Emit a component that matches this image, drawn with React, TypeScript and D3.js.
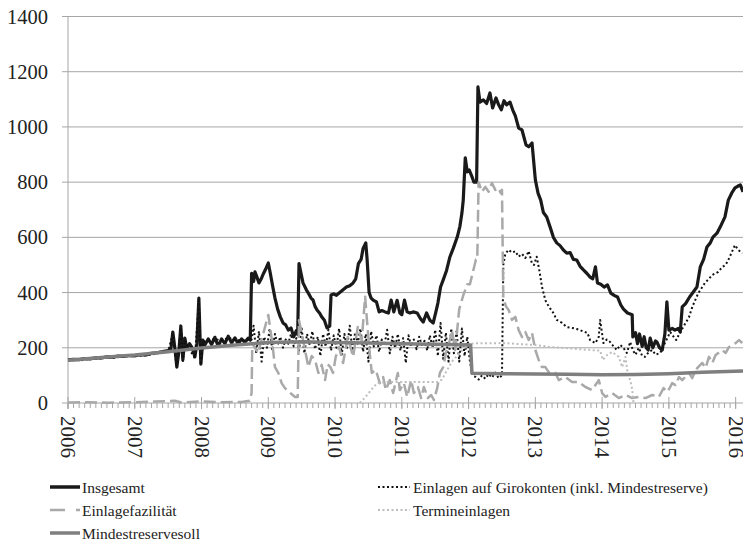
import React from 'react';
import * as d3 from 'd3';

const W = 743;
const H = 542;

const yTickValues = [0, 200, 400, 600, 800, 1000, 1200, 1400];
const yearTicks = [2006, 2007, 2008, 2009, 2010, 2011, 2012, 2013, 2014, 2015, 2016];

type P = [number, number];

const insgesamt: P[] = [
  [2006.0,156],[2006.08,158],[2006.17,157],[2006.25,161],[2006.33,160],[2006.42,164],[2006.5,163],[2006.58,167],[2006.67,166],[2006.75,170],[2006.83,169],[2006.92,172],[2007.0,171],[2007.08,175],[2007.17,174],[2007.25,180],[2007.33,182],[2007.42,186],[2007.5,190],[2007.54,194],[2007.57,257],[2007.6,200],[2007.63,130],[2007.66,185],[2007.69,279],[2007.72,156],[2007.75,235],[2007.78,195],[2007.82,215],[2007.86,200],[2007.9,167],[2007.93,215],[2007.96,380],[2007.99,141],[2008.02,228],[2008.05,210],[2008.1,232],[2008.15,212],[2008.2,238],[2008.25,205],[2008.3,232],[2008.35,215],[2008.4,242],[2008.45,218],[2008.5,236],[2008.55,214],[2008.6,232],[2008.65,220],[2008.7,235],[2008.73,228],
  [2008.75,470],[2008.78,440],[2008.8,475],[2008.83,456],[2008.86,435],[2008.9,453],[2008.93,470],[2008.97,490],[2009.0,507],[2009.03,470],[2009.06,430],[2009.1,380],[2009.14,340],[2009.18,312],[2009.22,290],[2009.26,283],[2009.3,264],[2009.34,272],[2009.38,240],[2009.42,262],[2009.44,248],[2009.46,505],[2009.49,470],[2009.52,435],[2009.57,410],[2009.6,398],[2009.64,380],[2009.67,373],[2009.7,350],[2009.73,337],[2009.77,325],[2009.8,312],[2009.84,300],[2009.88,272],[2009.92,278],[2009.94,391],[2009.98,395],
  [2010.02,390],[2010.07,400],[2010.12,410],[2010.17,420],[2010.22,425],[2010.27,435],[2010.31,450],[2010.35,505],[2010.39,520],[2010.42,560],[2010.46,580],[2010.48,520],[2010.51,400],[2010.54,380],[2010.57,373],[2010.62,366],[2010.66,330],[2010.7,335],[2010.75,330],[2010.8,326],[2010.84,373],[2010.88,330],[2010.93,372],[2010.97,326],[2011.0,320],[2011.04,373],[2011.08,330],[2011.12,326],[2011.17,330],[2011.23,326],[2011.28,305],[2011.32,293],[2011.37,326],[2011.42,300],[2011.47,290],[2011.51,330],[2011.54,362],[2011.58,420],[2011.62,446],[2011.67,480],[2011.72,529],[2011.77,560],[2011.83,601],[2011.87,640],[2011.9,688],[2011.92,735],[2011.95,888],[2011.98,837],
  [2012.01,844],[2012.05,820],[2012.08,800],[2012.12,800],[2012.14,1145],[2012.17,1090],[2012.22,1098],[2012.27,1085],[2012.32,1123],[2012.36,1069],[2012.41,1105],[2012.45,1080],[2012.49,1062],[2012.53,1095],[2012.57,1080],[2012.62,1090],[2012.66,1062],[2012.7,1040],[2012.75,996],[2012.8,989],[2012.86,935],[2012.9,928],[2012.95,942],[2013.0,808],[2013.04,760],[2013.08,735],[2013.12,690],[2013.17,674],[2013.22,638],[2013.27,600],[2013.32,580],[2013.37,570],[2013.42,554],[2013.47,543],[2013.52,545],[2013.57,520],[2013.62,518],[2013.67,495],[2013.72,482],[2013.77,470],[2013.82,456],[2013.86,450],[2013.9,493],[2013.93,435],[2013.98,430],
  [2014.03,420],[2014.08,428],[2014.13,398],[2014.18,390],[2014.23,384],[2014.28,355],[2014.32,340],[2014.38,326],[2014.45,320],[2014.46,239],[2014.5,255],[2014.53,215],[2014.56,250],[2014.6,205],[2014.63,240],[2014.66,200],[2014.69,192],[2014.72,235],[2014.76,200],[2014.8,225],[2014.82,221],[2014.86,200],[2014.9,192],[2014.94,250],[2014.97,366],[2015.0,264],[2015.05,270],[2015.09,264],[2015.14,270],[2015.17,257],[2015.2,348],[2015.25,360],[2015.31,384],[2015.36,400],[2015.42,420],[2015.47,493],[2015.52,520],[2015.57,565],[2015.62,580],[2015.66,601],[2015.72,615],[2015.77,638],[2015.84,674],[2015.89,735],[2015.94,760],[2015.99,779],[2016.03,785],[2016.07,790],[2016.11,765]
];

const girokonten: P[] = [
  [2006.0,153],[2006.1,156],[2006.2,155],[2006.3,159],[2006.4,160],[2006.5,162],[2006.6,165],[2006.7,164],[2006.8,168],[2006.9,170],[2007.0,169],[2007.1,172],[2007.2,173],[2007.3,178],[2007.4,183],[2007.5,187],[2007.57,250],[2007.63,128],[2007.69,272],[2007.72,152],[2007.75,228],[2007.8,200],[2007.9,163],[2007.96,372],[2007.99,138],[2008.02,222],[2008.1,226],[2008.2,232],[2008.3,226],[2008.4,236],[2008.5,230],[2008.6,226],[2008.7,230],[2008.73,225],
  [2008.75,230],[2008.78,280],[2008.82,180],[2008.86,260],[2008.9,150],[2008.94,240],[2008.98,200],[2009.02,270],[2009.06,190],[2009.1,250],[2009.14,210],[2009.18,240],[2009.22,200],[2009.26,230],[2009.3,215],[2009.34,250],[2009.38,205],[2009.42,235],[2009.46,190],[2009.5,270],[2009.54,180],[2009.58,250],[2009.62,210],[2009.66,260],[2009.7,195],[2009.74,240],[2009.78,170],[2009.82,250],[2009.86,205],[2009.9,265],[2009.94,190],[2009.98,245],
  [2010.02,200],[2010.06,270],[2010.1,175],[2010.14,250],[2010.18,200],[2010.22,280],[2010.26,190],[2010.3,255],[2010.34,215],[2010.38,270],[2010.42,185],[2010.46,250],[2010.5,150],[2010.54,260],[2010.58,205],[2010.62,245],[2010.66,185],[2010.7,230],[2010.74,210],[2010.78,265],[2010.82,180],[2010.86,240],[2010.9,200],[2010.94,250],[2010.98,190],[2011.02,235],[2011.06,145],[2011.1,245],[2011.14,205],[2011.18,230],[2011.22,195],[2011.26,240],[2011.3,210],[2011.34,225],[2011.38,190],[2011.42,245],[2011.46,200],[2011.5,265],[2011.54,170],[2011.58,290],[2011.62,160],[2011.66,255],[2011.7,150],[2011.74,270],[2011.78,180],[2011.82,260],[2011.86,150],[2011.9,270],[2011.94,170],[2011.98,240],
  [2012.02,150],[2012.06,100],[2012.1,95],[2012.15,85],[2012.2,100],[2012.25,88],[2012.3,105],[2012.35,92],[2012.4,110],[2012.45,90],[2012.5,100],[2012.52,500],[2012.55,540],[2012.6,555],[2012.65,545],[2012.7,550],[2012.75,530],[2012.8,540],[2012.85,525],[2012.9,550],[2012.95,505],[2012.98,500],[2013.02,530],[2013.06,480],[2013.1,420],[2013.15,372],[2013.2,350],[2013.27,326],[2013.32,301],[2013.4,290],[2013.47,275],[2013.55,272],[2013.62,268],[2013.67,264],[2013.73,258],[2013.78,254],[2013.82,228],[2013.9,217],[2013.95,240],[2013.97,301],[2014.0,250],[2014.02,217],
  [2014.07,230],[2014.12,221],[2014.17,205],[2014.22,192],[2014.27,210],[2014.31,203],[2014.37,181],[2014.42,221],[2014.46,192],[2014.5,175],[2014.55,200],[2014.6,170],[2014.64,167],[2014.7,185],[2014.75,192],[2014.8,175],[2014.87,181],[2014.94,217],[2015.02,257],[2015.07,240],[2015.11,228],[2015.17,257],[2015.25,290],[2015.3,310],[2015.35,348],[2015.44,398],[2015.5,420],[2015.54,435],[2015.6,450],[2015.65,464],[2015.7,470],[2015.74,475],[2015.8,493],[2015.85,500],[2015.89,518],[2015.94,545],[2015.99,572],[2016.04,554],[2016.1,543]
];

const einlagefazilitaet: P[] = [
  [2006.0,2],[2006.3,3],[2006.6,1],[2007.0,3],[2007.3,5],[2007.6,8],[2007.7,2],[2008.0,6],[2008.3,3],[2008.6,4],[2008.72,8],[2008.75,36],[2008.76,217],[2008.8,200],[2008.85,181],[2008.91,239],[2009.0,319],[2009.06,217],[2009.1,130],[2009.15,109],[2009.2,72],[2009.25,54],[2009.33,36],[2009.4,22],[2009.44,22],[2009.46,300],[2009.55,192],[2009.6,130],[2009.65,170],[2009.7,156],[2009.75,109],[2009.8,138],[2009.85,83],[2009.89,140],[2009.93,130],[2009.97,109],
  [2010.01,167],[2010.06,203],[2010.12,145],[2010.19,239],[2010.27,167],[2010.34,275],[2010.4,228],[2010.45,385],[2010.51,203],[2010.55,109],[2010.61,120],[2010.67,72],[2010.72,94],[2010.76,47],[2010.82,83],[2010.87,36],[2010.94,109],[2010.97,47],[2011.03,72],[2011.08,22],[2011.14,83],[2011.18,36],[2011.24,58],[2011.29,18],[2011.33,58],[2011.39,18],[2011.44,29],[2011.48,11],[2011.53,54],[2011.57,109],[2011.62,130],[2011.66,181],[2011.72,228],[2011.75,264],[2011.8,192],[2011.86,340],[2011.92,390],[2011.98,430],[2012.02,430],[2012.07,480],[2012.11,520],[2012.13,520],
  [2012.15,800],[2012.2,765],[2012.25,783],[2012.3,765],[2012.35,797],[2012.4,772],[2012.45,779],[2012.48,761],[2012.5,772],[2012.52,380],[2012.56,350],[2012.6,337],[2012.65,301],[2012.7,312],[2012.75,264],[2012.8,239],[2012.85,257],[2012.9,228],[2012.95,254],[2013.0,192],[2013.05,156],[2013.1,130],[2013.15,130],[2013.2,112],[2013.3,109],[2013.35,83],[2013.45,94],[2013.55,76],[2013.65,76],[2013.75,58],[2013.85,47],[2013.9,65],[2013.95,83],[2014.0,36],
  [2014.05,22],[2014.15,36],[2014.25,18],[2014.35,29],[2014.45,18],[2014.55,22],[2014.65,18],[2014.75,29],[2014.85,22],[2014.92,54],[2014.98,40],[2015.05,72],[2015.1,65],[2015.15,94],[2015.2,83],[2015.3,109],[2015.35,90],[2015.4,120],[2015.5,145],[2015.55,127],[2015.6,167],[2015.65,145],[2015.7,174],[2015.8,192],[2015.85,181],[2015.9,203],[2016.0,217],[2016.05,228],[2016.1,217]
];

const termineinlagen: P[] = [
  [2010.37,0],[2010.45,20],[2010.55,50],[2010.63,72],[2010.78,76],[2011.12,76],[2011.53,76],[2011.6,85],[2011.75,150],[2011.9,190],[2012.0,213],[2012.1,216],[2012.52,217],[2013.0,210],[2013.22,203],[2013.5,198],[2013.82,192],[2013.97,190],[2014.01,156],[2014.08,175],[2014.15,185],[2014.25,167],[2014.3,130],[2014.35,167],[2014.38,112],[2014.42,83],[2014.45,50],[2014.47,0]
];

const mindestreservesoll: P[] = [
  [2006.0,155],[2006.5,165],[2007.0,174],[2007.5,186],[2008.0,199],[2008.5,210],[2009.0,219],[2009.5,222],[2010.0,219],[2010.5,217],[2011.0,215],[2011.5,213],[2012.03,210],[2012.05,108],[2012.5,106],[2013.0,105],[2013.5,104],[2014.0,102],[2014.5,103],[2015.0,106],[2015.5,111],[2016.11,116]
];

const legendLabels = [
  'Insgesamt',
  'Einlagen auf Girokonten (inkl. Mindestreserve)',
  'Einlagefazilität',
  'Termineinlagen',
  'Mindestreservesoll'
];

const FONT = 'Liberation Serif';

export default function App() {
  const x = d3.scaleLinear().domain([2006, 2016.11]).range([68, 743]);
  const y = d3.scaleLinear().domain([0, 1400]).range([403, 16.5]);
  const line = d3.line<P>().x(d => x(d[0])).y(d => y(d[1]));
  const minorTicks = d3.range(0, 121).map(i => 2006 + i / 12).filter(v => v <= 2016.11);

  const gridColor = '#a6a6a6';
  const ts = { fontFamily: FONT };
  const series = [
    { data: insgesamt, stroke: '#1a1a1a', width: 3.2, dash: undefined },
    { data: girokonten, stroke: '#111', width: 2, dash: '2 2.5' },
    { data: einlagefazilitaet, stroke: '#a9a9a9', width: 2.5, dash: '12 5' },
    { data: termineinlagen, stroke: '#bdbdbd', width: 2, dash: '2 2.5' },
    { data: mindestreservesoll, stroke: '#7f7f7f', width: 3.5, dash: undefined },
  ];

  return (
    <svg width={W} height={H} style={{ position: 'absolute', left: 0, top: 0, background: '#fff' }}>
      <rect width={W} height={H} fill="#fff" />
      {yTickValues.map(v => (
        <g key={v}>
          <line x1={62} x2={W} y1={y(v)} y2={y(v)} stroke={gridColor} strokeWidth={1} />
          <text x={48} y={y(v)} textAnchor="end" dominantBaseline="central" fontSize={20.5} fill="#222" style={ts}>{v}</text>
        </g>
      ))}
      <line x1={68} x2={68} y1={y(1400)} y2={y(0) + 6} stroke={gridColor} strokeWidth={1} />
      {minorTicks.map(v => (
        <line key={'m' + v} x1={x(v)} x2={x(v)} y1={y(0)} y2={y(0) + 5} stroke={gridColor} strokeWidth={1} />
      ))}
      {yearTicks.map(v => (
        <g key={'y' + v}>
          <line x1={x(v)} x2={x(v)} y1={y(0) - 6} y2={y(0) + 6} stroke={gridColor} strokeWidth={1} />
          <text transform={`translate(${x(v)},${y(0) + 13}) rotate(90)`} dominantBaseline="central" fontSize={21} fill="#222" style={ts}>{v}</text>
        </g>
      ))}
      {series.map((s, i) => (
        <path key={i} d={line(s.data) || ''} fill="none" stroke={s.stroke} strokeWidth={s.width}
          strokeDasharray={s.dash} strokeLinejoin="round" />
      ))}
      <g fontSize={15.5} fill="#222">
        <line x1={50} x2={80} y1={487} y2={487} stroke="#1a1a1a" strokeWidth={3.5} />
        <text x={82} y={487} dominantBaseline="central" style={ts}>{legendLabels[0]}</text>
        <line x1={378} x2={410} y1={487} y2={487} stroke="#111" strokeWidth={2} strokeDasharray="2 2.5" />
        <text x={413} y={487} dominantBaseline="central" style={ts}>{legendLabels[1]}</text>
        <line x1={50} x2={80} y1={510} y2={510} stroke="#a9a9a9" strokeWidth={2.5} strokeDasharray="15 11" />
        <text x={82} y={510} dominantBaseline="central" style={ts}>{legendLabels[2]}</text>
        <line x1={378} x2={410} y1={510} y2={510} stroke="#bdbdbd" strokeWidth={2} strokeDasharray="2 2.5" />
        <text x={413} y={510} dominantBaseline="central" style={ts}>{legendLabels[3]}</text>
        <line x1={50} x2={80} y1={533} y2={533} stroke="#7f7f7f" strokeWidth={3.5} />
        <text x={82} y={533} dominantBaseline="central" style={ts}>{legendLabels[4]}</text>
      </g>
    </svg>
  );
}
